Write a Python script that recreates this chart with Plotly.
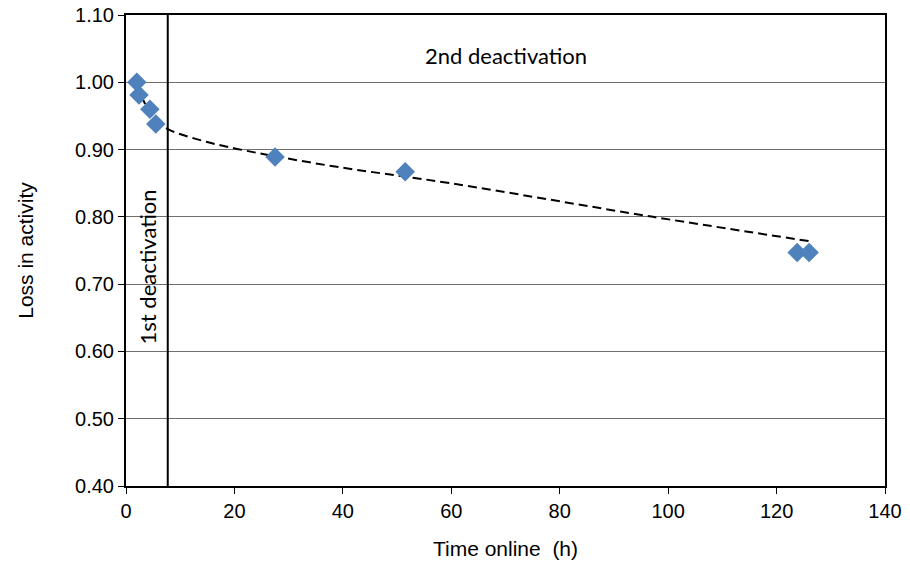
import plotly.graph_objects as go

# Measured data points
time_h = [2.0, 2.4, 4.4, 5.5, 27.5, 51.5, 123.8, 126.0]
activity = [1.000, 0.981, 0.960, 0.938, 0.889, 0.867, 0.747, 0.747]

# Trend line
trend_x = [1.7, 5.4, 8.1, 13.7, 20.5, 37.6, 59.8, 97.2, 126.8]
trend_y = [0.999, 0.944, 0.929, 0.914, 0.901, 0.876, 0.850, 0.800, 0.763]

boundary_x = 7.7
y_ticks = [0.40, 0.50, 0.60, 0.70, 0.80, 0.90, 1.00, 1.10]
x_ticks = [0, 20, 40, 60, 80, 100, 120, 140]

fig = go.Figure()
fig.add_trace(go.Scatter(x=trend_x, y=trend_y, mode="lines",
                         line=dict(color="black", width=2, dash="9px,5px", shape="spline"),
                         showlegend=False, hoverinfo="skip"))
fig.add_trace(go.Scatter(x=time_h, y=activity, mode="markers",
                         marker=dict(symbol="diamond", size=15, color="#4F81BD"),
                         showlegend=False))

fig.add_shape(type="line", x0=boundary_x, x1=boundary_x, y0=0.40, y1=1.10,
              xref="x", yref="y", line=dict(color="black", width=2))

fig.add_annotation(x=3.9, y=0.725, xref="x", yref="y", text="1st deactivation",
                   textangle=-90, showarrow=False,
                   font=dict(family="Lato, Open Sans, sans-serif", size=22, color="black"))
fig.add_annotation(x=70, y=1.040, xref="x", yref="y", text="2nd deactivation",
                   showarrow=False,
                   font=dict(family="Lato, Open Sans, sans-serif", size=22, color="black"))

fig.update_layout(
    width=910, height=562,
    margin=dict(l=126, r=25, t=15, b=76),
    plot_bgcolor="white", paper_bgcolor="white",
    font=dict(family="Liberation Sans", size=20, color="black"),
)
fig.update_xaxes(range=[0, 140], tickvals=x_ticks, ticktext=[str(v) for v in x_ticks],
                 showgrid=False, zeroline=False, automargin=False,
                 showline=True, linecolor="black", linewidth=2, mirror=True,
                 ticks="outside", ticklen=6, tickcolor="black",
                 tickfont=dict(family="Liberation Sans", size=20),
                 title=dict(text="Time online  (h)", standoff=20,
                            font=dict(family="Liberation Sans", size=21)))
fig.update_yaxes(range=[0.40, 1.10], tickvals=y_ticks,
                 ticktext=[f"{v:.2f}" for v in y_ticks],
                 showgrid=True, gridcolor="#6f6f6f", gridwidth=1, zeroline=False,
                 automargin=False,
                 showline=True, linecolor="black", linewidth=2, mirror=True,
                 ticks="outside", ticklen=6, tickcolor="black",
                 tickfont=dict(family="Liberation Sans", size=20),
                 title=dict(text="Loss in activity", standoff=36,
                            font=dict(family="Liberation Sans", size=21)))

fig.write_html("out.html")
